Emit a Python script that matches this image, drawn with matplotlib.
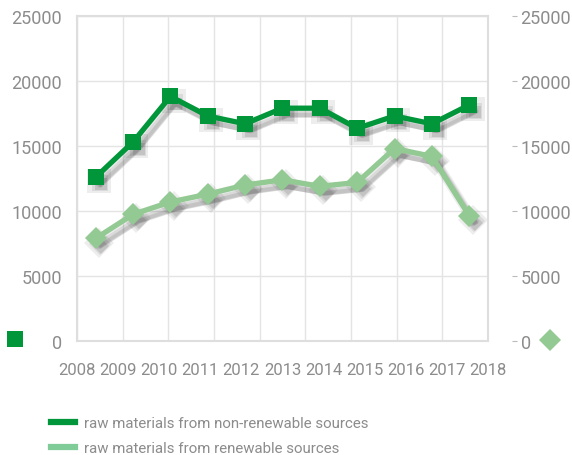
import numpy as np
from matplotlib import pyplot as plt
from matplotlib import transforms
from matplotlib.lines import Line2D

years = ["2008", "2009", "2010", "2011", "2012", "2013",
         "2014", "2015", "2016", "2017", "2018"]

non_renewable = [12600, 15300, 18800, 17300, 16700, 17900,
                 17900, 16350, 17300, 16700, 18150]
renewable = [7900, 9750, 10700, 11300, 12000, 12400,
             11900, 12200, 14800, 14200, 9650]

labels = ["raw materials from non-renewable sources",
          "raw materials from renewable sources"]

dark = "#009639"
light = "#93c993"
light_legend = "#80cc99"
grey = "#8c8c8c"

plt.rcParams["font.family"] = ["Roboto", "DejaVu Sans"]

fig = plt.figure(figsize=(5.72, 4.56), dpi=100)
ax = fig.add_axes([0.1346, 0.2493, 0.7185, 0.7141])

n = len(years)
x = np.arange(n) + 0.5

# soft drop shadows, drawn as offset copies of the lines
for off, a, w in [(2.0, 0.07, 7), (2.8, 0.08, 5), (3.4, 0.10, 3.5)]:
    shift = ax.transData + transforms.ScaledTranslation(off / 72 * 1.2, -off / 72 * 1.5,
                                                        fig.dpi_scale_trans)
    for vals, m, ms in [(non_renewable, "s", 12), (renewable, "D", 11)]:
        ax.plot(x, vals, color="black", alpha=a, lw=w, marker=m, ms=ms * w / 5,
                mew=0, transform=shift, zorder=2)

ax.plot(x, non_renewable, color=dark, lw=3.8, marker="s", ms=12, mew=0, zorder=4)
ax.plot(x, renewable, color=light, lw=3.8, marker="D", ms=11, mew=0, zorder=3)

ax.set_xlim(0, n)
ax.set_ylim(0, 25000)
yticks = np.arange(0, 25001, 5000)
ax.set_yticks(yticks)
ax.set_yticklabels([str(v) for v in yticks])
ax.set_xticks(np.linspace(0, n, n))
ax.set_xticklabels(years)

# grid
for gx in np.linspace(0, n, 10):
    ax.axvline(gx, color="#e4e4e4", lw=1, zorder=0)
for gy in yticks:
    ax.axhline(gy, color="#e4e4e4", lw=1, zorder=0)

for s in ax.spines.values():
    s.set_color("#dedede")
    s.set_linewidth(1.5)

ax.tick_params(axis="y", length=0, pad=11, labelsize=13, labelcolor=grey)
ax.tick_params(axis="x", length=0, pad=15, labelsize=12, labelcolor=grey)

ax2 = ax.twinx()
ax2.set_ylim(0, 25000)
ax2.set_yticks(yticks)
ax2.set_yticklabels([str(v) for v in yticks])
for s in ax2.spines.values():
    s.set_visible(False)
ax2.spines["right"].set_position(("outward", 17))
ax2.tick_params(axis="y", length=3.5, width=0.8, color="#bbbbbb", pad=3,
                labelsize=13, labelcolor=grey)

# series icons next to the zero labels
fig.add_artist(Line2D([15.5 / 572], [1 - 340 / 456], marker="s", ms=12, mew=0,
                      color=dark, transform=fig.transFigure, lw=0))
fig.add_artist(Line2D([550 / 572], [1 - 341 / 456], marker="D", ms=11, mew=0,
                      color=light, transform=fig.transFigure, lw=0))

handles = [Line2D([], [], color=dark, lw=4.5),
           Line2D([], [], color=light_legend, lw=4.5)]
fig.legend(handles, labels, loc="upper left", bbox_to_anchor=(0.089, 0.085),
           frameon=False, fontsize=10.8, labelcolor=grey, handlelength=1.6,
           handletextpad=0.6, labelspacing=0.75, borderpad=0, borderaxespad=0)

fig.savefig("out.png", dpi=100)
